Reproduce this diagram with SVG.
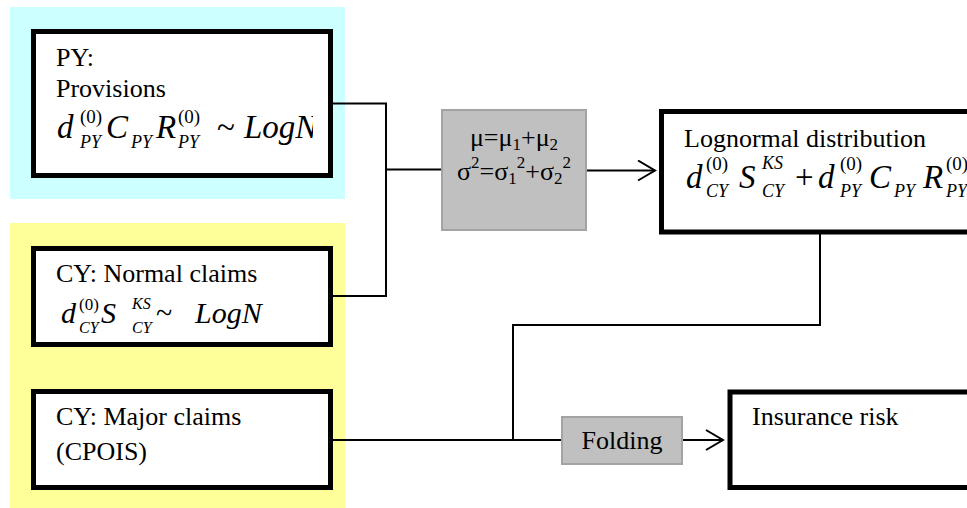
<svg xmlns="http://www.w3.org/2000/svg" width="967" height="508" viewBox="0 0 967 508">
  <style>
    .zone-py { fill: #ccffff; }
    .zone-cy { fill: #ffff99; }
    .box { fill: #ffffff; stroke: #000000; stroke-width: 5; }
    .op { fill: #c0c0c0; stroke: #a3a3a3; stroke-width: 2; }
    .wire { fill: none; stroke: #000000; stroke-width: 2; }
    text { font-family: "Liberation Serif", "Times New Roman", serif; fill: #000000; }
    .t { font-size: 26px; }
    .m { font-size: 30px; font-style: italic; }
    .ml { font-size: 33px; font-style: italic; }
    .r { font-size: 30px; }
    .rl { font-size: 33px; }
    .sup { font-size: 17px; }
    .sub { font-size: 16px; font-style: italic; }
    .supl { font-size: 19px; }
    .subl { font-size: 18px; font-style: italic; }
  </style>
  <defs>
    <marker id="open-arrow" viewBox="0 0 20 22" refX="18" refY="11" markerWidth="20" markerHeight="22" markerUnits="userSpaceOnUse" orient="auto">
      <path d="M1,1 L18,11 L1,21" fill="none" stroke="#000000" stroke-width="2"/>
    </marker>
    <clipPath id="py-text-clip">
      <rect x="36" y="34" width="277" height="139"/>
    </clipPath>
  </defs>

  <!-- background zones -->
  <rect class="zone-py" x="10" y="7" width="335" height="192"/>
  <rect class="zone-cy" x="10" y="223" width="335" height="285"/>

  <!-- connectors -->
  <g id="connectors">
    <path class="wire" d="M333,103.5 H386 V296 H333"/>
    <path class="wire" d="M386,169.5 H442" stroke-width="2.5"/>
    <path class="wire" d="M587,170.5 H655" marker-end="url(#open-arrow)"/>
    <path class="wire" d="M820,234 V325 H513 V440"/>
    <path class="wire" d="M333,440 H562"/>
    <path class="wire" d="M683,440 H723" marker-end="url(#open-arrow)"/>
  </g>

  <!-- previous-year provisions -->
  <g id="py-provisions">
    <rect class="box" x="33.5" y="31.5" width="297" height="144"/>
    <text class="t" x="56" y="66">PY:</text>
    <text class="t" x="56" y="97">Provisions</text>
    <g clip-path="url(#py-text-clip)">
      <text class="ml" x="57" y="138">d</text>
      <text class="supl" x="80" y="123">(0)</text>
      <text class="subl" x="80" y="148">PY</text>
      <text class="ml" x="106" y="138">C</text>
      <text class="subl" x="131" y="148">PY</text>
      <text class="ml" x="156" y="138">R</text>
      <text class="supl" x="178" y="123">(0)</text>
      <text class="subl" x="178" y="148">PY</text>
      <text class="rl" x="217" y="138">~</text>
      <text class="ml" x="244" y="138">LogN</text>
    </g>
  </g>

  <!-- current-year normal claims -->
  <g id="cy-normal">
    <rect class="box" x="33.5" y="248.5" width="297" height="96"/>
    <text class="t" x="56" y="282">CY: Normal claims</text>
    <text class="m" x="61" y="323">d</text>
    <text class="sup" x="79" y="310">(0)</text>
    <text class="sub" x="79" y="333">CY</text>
    <text class="m" x="101" y="323">S</text>
    <text class="sub" x="132" y="309">KS</text>
    <text class="sub" x="132" y="333">CY</text>
    <text class="r" x="156" y="323">~</text>
    <text class="m" x="195" y="323">LogN</text>
  </g>

  <!-- current-year major claims -->
  <g id="cy-major">
    <rect class="box" x="33.5" y="391.5" width="297" height="96"/>
    <text class="t" x="56" y="425">CY: Major claims</text>
    <text class="t" x="56" y="460">(CPOIS)</text>
  </g>

  <!-- parameter combination -->
  <g id="combine">
    <rect class="op" x="442" y="110" width="144" height="120"/>
    <text class="t" x="514" y="146" text-anchor="middle">μ=μ<tspan font-size="17" dy="4">1</tspan><tspan dy="-4">+μ</tspan><tspan font-size="17" dy="4">2</tspan></text>
    <text class="t" x="514" y="180" text-anchor="middle">σ<tspan font-size="17" dy="-12">2</tspan><tspan dy="12">=σ</tspan><tspan font-size="17" dy="4">1</tspan><tspan font-size="17" dy="-16">2</tspan><tspan dy="12">+σ</tspan><tspan font-size="17" dy="4">2</tspan><tspan font-size="17" dy="-16">2</tspan></text>
  </g>

  <!-- combined lognormal distribution -->
  <g id="lognormal">
    <rect class="box" x="661.5" y="111.5" width="400" height="120.5"/>
    <text class="t" x="684" y="147">Lognormal distribution</text>
    <text class="ml" x="686" y="188">d</text>
    <text class="supl" x="706" y="170">(0)</text>
    <text class="subl" x="706" y="197">CY</text>
    <text class="ml" x="739" y="188">S</text>
    <text class="subl" x="762" y="169">KS</text>
    <text class="subl" x="762" y="197">CY</text>
    <text class="rl" x="795" y="188">+</text>
    <text class="ml" x="818" y="188">d</text>
    <text class="supl" x="840" y="170">(0)</text>
    <text class="subl" x="840" y="197">PY</text>
    <text class="ml" x="869" y="188">C</text>
    <text class="subl" x="894" y="197">PY</text>
    <text class="ml" x="923" y="188">R</text>
    <text class="supl" x="946" y="170">(0)</text>
    <text class="subl" x="946" y="197">PY</text>
  </g>

  <!-- folding step -->
  <g id="folding">
    <rect class="op" x="562" y="417" width="120" height="47"/>
    <text class="t" x="622" y="449" text-anchor="middle">Folding</text>
  </g>

  <!-- result -->
  <g id="insurance-risk">
    <rect class="box" x="730" y="392" width="400" height="95.5"/>
    <text class="t" x="752" y="425">Insurance risk</text>
  </g>
</svg>
